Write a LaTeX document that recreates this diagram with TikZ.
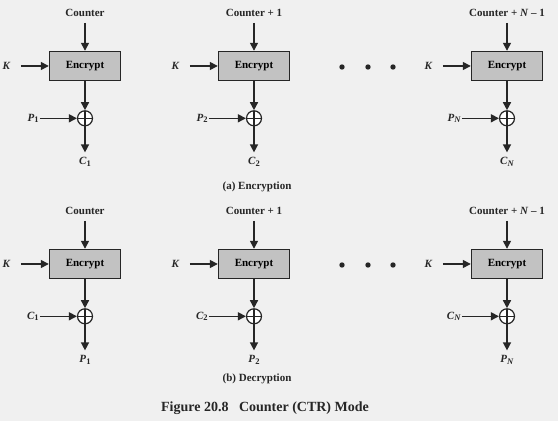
\documentclass[tikz,border=0pt]{standalone}
\usepackage{fontspec}
\setmainfont{Liberation Serif}
\usetikzlibrary{positioning, arrows.meta}

\definecolor{bggray}{HTML}{F0F0F0}
\definecolor{boxgray}{HTML}{C2C2C2}
\definecolor{linegray}{HTML}{262626}

% larger subscript as in the figure
\newcommand{\lowsub}[1]{\raisebox{-0.35ex}{\fontsize{8.5}{10}\selectfont #1}}

\begin{document}
\begin{tikzpicture}[
    x=1pt, y=1pt,
    node distance=30pt and 37pt, % vertical and horizontal node distance
    encbox/.style={draw=linegray, fill=boxgray, line width=1.4pt, minimum width=71pt, minimum height=29pt, font=\bfseries\fontsize{11}{13}\selectfont},
    labelstyle/.style={font=\bfseries\fontsize{11}{13}\selectfont, inner sep=1pt, text=linegray},
    captionstyle/.style={font=\bfseries\fontsize{14}{16}\selectfont, text=linegray},
    xorstyle/.style={circle, draw=linegray, fill=white, line width=1.2pt, minimum size=15pt, inner sep=0pt,
        path picture={\draw[linegray, line width=1.1pt] (path picture bounding box.north) -- (path picture bounding box.south)
                      (path picture bounding box.west) -- (path picture bounding box.east);}},
    flow/.style={draw=linegray, line width=1.5pt, -{Triangle[length=8pt, width=8pt]}},
    keyflow/.style={flow, shorten <=9pt}, % K arrows start away from the letter
    ctrflow/.style={flow, shorten <=5pt},
    outflow/.style={flow, shorten >=4pt}
]

% Background and page size
\fill[bggray] (0,0) rectangle (558,421);
\useasboundingbox (0,0) rectangle (558,421);

% ---------------- (a) Encryption ----------------
% Block 1
\node (enc1) [encbox] at (85,355) {Encrypt};
\node (ctr1) [labelstyle, above=33pt of enc1] {Counter};
\node (k1) [labelstyle, left=of enc1] {\textit{K}};
\node (xor1) [xorstyle, below=29pt of enc1] {};
\node (p1) [labelstyle, left=of xor1] {\textit{P}\lowsub{1}};
\node (c1) [labelstyle, below=30pt of xor1] {\textit{C}\lowsub{1}};
\draw[ctrflow] (ctr1) -- (enc1);
\draw[keyflow] (k1) -- (enc1);
\draw[flow] (enc1) -- (xor1);
\draw[flow] (p1) -- (xor1);
\draw[outflow] (xor1) -- (c1);

% Block 2
\node (enc2) [encbox] at (254,355) {Encrypt};
\node (ctr2) [labelstyle, above=33pt of enc2] {Counter + 1};
\node (k2) [labelstyle, left=of enc2] {\textit{K}};
\node (xor2) [xorstyle, below=29pt of enc2] {};
\node (p2) [labelstyle, left=of xor2] {\textit{P}\lowsub{2}};
\node (c2) [labelstyle, below=30pt of xor2] {\textit{C}\lowsub{2}};
\draw[ctrflow] (ctr2) -- (enc2);
\draw[keyflow] (k2) -- (enc2);
\draw[flow] (enc2) -- (xor2);
\draw[flow] (p2) -- (xor2);
\draw[outflow] (xor2) -- (c2);

% Dots
\fill[linegray] (342,354) circle (2.7) (368,354) circle (2.7) (393,354) circle (2.7);

% Block N
\node (enc3) [encbox] at (507,355) {Encrypt};
\node (ctr3) [labelstyle, above=33pt of enc3] {Counter + \textit{N} – 1};
\node (k3) [labelstyle, left=of enc3] {\textit{K}};
\node (xor3) [xorstyle, below=29pt of enc3] {};
\node (p3) [labelstyle, left=of xor3] {\textit{P}\lowsub{\textit{N}}};
\node (c3) [labelstyle, below=30pt of xor3] {\textit{C}\lowsub{\textit{N}}};
\draw[ctrflow] (ctr3) -- (enc3);
\draw[keyflow] (k3) -- (enc3);
\draw[flow] (enc3) -- (xor3);
\draw[flow] (p3) -- (xor3);
\draw[outflow] (xor3) -- (c3);

\node (enc_title) [labelstyle] at (257,234) {(a) Encryption};

% ---------------- (b) Decryption ----------------
% Block 1
\node (dec1) [encbox] at (85,157) {Encrypt};
\node (dctr1) [labelstyle, above=33pt of dec1] {Counter};
\node (dk1) [labelstyle, left=of dec1] {\textit{K}};
\node (dxor1) [xorstyle, below=29pt of dec1] {};
\node (dc1) [labelstyle, left=of dxor1] {\textit{C}\lowsub{1}};
\node (dp1) [labelstyle, below=30pt of dxor1] {\textit{P}\lowsub{1}};
\draw[ctrflow] (dctr1) -- (dec1);
\draw[keyflow] (dk1) -- (dec1);
\draw[flow] (dec1) -- (dxor1);
\draw[flow] (dc1) -- (dxor1);
\draw[outflow] (dxor1) -- (dp1);

% Block 2
\node (dec2) [encbox] at (254,157) {Encrypt};
\node (dctr2) [labelstyle, above=33pt of dec2] {Counter + 1};
\node (dk2) [labelstyle, left=of dec2] {\textit{K}};
\node (dxor2) [xorstyle, below=29pt of dec2] {};
\node (dc2) [labelstyle, left=of dxor2] {\textit{C}\lowsub{2}};
\node (dp2) [labelstyle, below=30pt of dxor2] {\textit{P}\lowsub{2}};
\draw[ctrflow] (dctr2) -- (dec2);
\draw[keyflow] (dk2) -- (dec2);
\draw[flow] (dec2) -- (dxor2);
\draw[flow] (dc2) -- (dxor2);
\draw[outflow] (dxor2) -- (dp2);

% Dots
\fill[linegray] (342,156) circle (2.7) (368,156) circle (2.7) (393,156) circle (2.7);

% Block N
\node (dec3) [encbox] at (507,157) {Encrypt};
\node (dctr3) [labelstyle, above=33pt of dec3] {Counter + \textit{N} – 1};
\node (dk3) [labelstyle, left=of dec3] {\textit{K}};
\node (dxor3) [xorstyle, below=29pt of dec3] {};
\node (dc3) [labelstyle, left=of dxor3] {\textit{C}\lowsub{\textit{N}}};
\node (dp3) [labelstyle, below=30pt of dxor3] {\textit{P}\lowsub{\textit{N}}};
\draw[ctrflow] (dctr3) -- (dec3);
\draw[keyflow] (dk3) -- (dec3);
\draw[flow] (dec3) -- (dxor3);
\draw[flow] (dc3) -- (dxor3);
\draw[outflow] (dxor3) -- (dp3);

\node (dec_title) [labelstyle] at (257,42) {(b) Decryption};

% Figure caption
\node (fig_caption) [captionstyle] at (265,13) {Figure 20.8\hspace{0.5em} Counter (CTR) Mode};

\end{tikzpicture}
\end{document}
